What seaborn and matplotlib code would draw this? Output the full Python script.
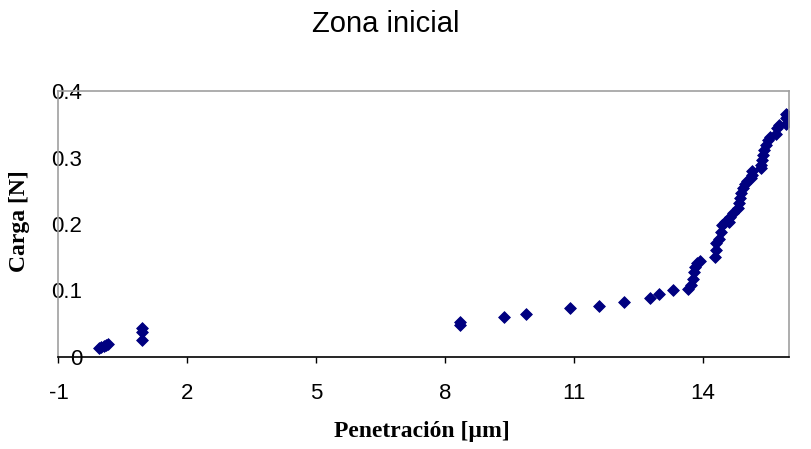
import matplotlib
matplotlib.use("Agg")
import matplotlib.pyplot as plt
import seaborn as sns
import pandas as pd

# Data
penetracion = [-0.05, 0.0, 0.05, 0.10, 0.15,
               0.94, 0.94, 0.94,
               8.35, 8.35, 9.37, 9.89, 10.91, 11.58, 12.17, 12.77, 12.97, 13.31,
               13.65, 13.73, 13.76, 13.79, 13.81, 13.85, 13.92,
               14.27, 14.29, 14.31, 14.36, 14.41, 14.45, 14.52,
               14.60, 14.62, 14.69,
               14.81, 14.83, 14.86, 14.88, 14.92, 14.97, 15.02,
               15.12, 15.13, 15.15,
               15.35, 15.36, 15.38, 15.40, 15.42, 15.47, 15.51, 15.56,
               15.69, 15.72, 15.76,
               15.93, 15.94, 15.94, 15.96]
carga = [0.013, 0.015, 0.016, 0.018, 0.020,
         0.044, 0.038, 0.026,
         0.053, 0.048, 0.060, 0.064, 0.073, 0.076, 0.083, 0.088, 0.095, 0.101,
         0.102, 0.108, 0.118, 0.128, 0.136, 0.141, 0.144,
         0.151, 0.161, 0.171, 0.178, 0.188, 0.198, 0.203,
         0.203, 0.211, 0.217,
         0.224, 0.231, 0.239, 0.246, 0.254, 0.260, 0.265,
         0.269, 0.274, 0.279,
         0.284, 0.289, 0.296, 0.304, 0.311, 0.319, 0.326, 0.331,
         0.336, 0.344, 0.349,
         0.351, 0.359, 0.366, 0.364]
x_ticks = [-1, 2, 5, 8, 11, 14]
x_tick_labels = ["-1", "2", "5", "8", "11", "14"]
y_ticks = [0, 0.1, 0.2, 0.3, 0.4]
y_tick_labels = ["0", "0.1", "0.2", "0.3", "0.4"]

df = pd.DataFrame({"Penetración": penetracion, "Carga": carga})

sns.set_style("white")
plt.rcParams['font.family'] = ['Liberation Sans', 'DejaVu Sans']
plt.rcParams['text.color'] = 'black'
plt.rcParams['xtick.color'] = 'black'
plt.rcParams['ytick.color'] = 'black'
plt.rcParams['axes.labelcolor'] = 'black'

fig = plt.figure(figsize=(8.12, 4.49), dpi=100)
ax = fig.add_axes([58.5 / 812, (449 - 357) / 449, (789 - 58.5) / 812, (357 - 91) / 449])

sns.scatterplot(data=df, x="Penetración", y="Carga", marker="D", s=36,
                color="#000080", edgecolor="#000080", linewidth=0.6, ax=ax)

ax.set_xlim(-1, 16)
ax.set_ylim(0, 0.4)
ax.set_xticks(x_ticks)
ax.set_xticklabels(x_tick_labels, fontsize=16)
ax.set_yticks(y_ticks)
ax.set_yticklabels(y_tick_labels, fontsize=16, ha="right")
ax.tick_params(axis="x", direction="out", length=4, width=1, color="black", pad=15, bottom=True,
               labelcolor="black")
ax.tick_params(axis="y", length=0, pad=-17, labelcolor="black")
ax.set_xlabel("")
ax.set_ylabel("")

for side in ["left", "top", "right"]:
    ax.spines[side].set_color("#a0a0a0")
    ax.spines[side].set_linewidth(1.2)
ax.spines["bottom"].set_color("black")
ax.spines["bottom"].set_linewidth(1.2)

fig.text(386 / 812, 1 - 24 / 449, "Zona inicial", fontsize=21, color="black", ha="center", va="center")
fig.text(421.5 / 812, 1 - 432 / 449, "Penetración [µm]", fontsize=17, fontweight="bold", color="black",
         family=["Liberation Serif", "DejaVu Serif"], ha="center", va="center")
fig.text(20 / 812, 1 - 221 / 449, "Carga [N]", fontsize=17, fontweight="bold", rotation=90, color="black",
         family=["Liberation Serif", "DejaVu Serif"], ha="center", va="center")

fig.savefig("out.png", dpi=100)
